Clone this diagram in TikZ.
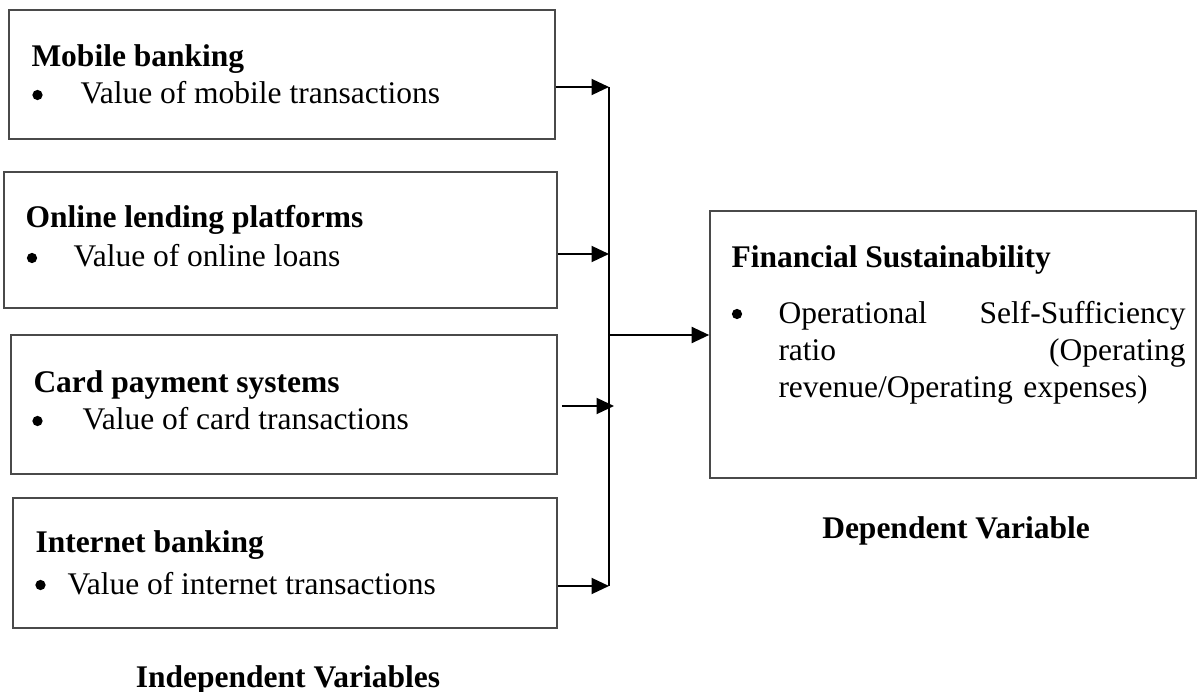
\documentclass[tikz,border=0pt]{standalone}
\usepackage{fontspec}
\setmainfont{Liberation Serif}
\usepackage{xcolor}
\usepackage{tikz}
\usetikzlibrary{calc,arrows.meta}
\definecolor{ink}{HTML}{000000}
\definecolor{frame}{HTML}{4A4A4A}
\tikzset{
  box/.style={draw=frame, line width=0.65pt, inner sep=0pt, rectangle},
  link/.style={draw=ink, line width=0.8pt, -{Triangle[length=7pt,width=6.4pt]}},
  bus/.style={draw=ink, line width=0.8pt},
  dotb/.style={circle, fill=ink, inner sep=0pt, minimum size=4.1pt},
  head/.style={anchor=base west, inner sep=0pt, font=\fontsize{12.6}{14.8}\selectfont\bfseries},
  item/.style={anchor=base west, inner sep=0pt, font=\fontsize{12.6}{14.8}\selectfont},
  varcap/.style={anchor=base, inner sep=0pt, font=\fontsize{12.6}{14.8}\selectfont\bfseries},
}

\begin{document}
\begin{tikzpicture}[x=0.4pt,y=-0.4pt]
  \useasboundingbox (0,0) rectangle (1201,692);

  % independent variable boxes
  \node[box, minimum width=218.4pt, minimum height=51.6pt] (mob) at (282,74.5) {};
  \node[box, minimum width=221.2pt, minimum height=54.4pt] (onl) at (280.5,240) {};
  \node[box, minimum width=218.4pt, minimum height=55.6pt] (card) at (284,404.5) {};
  \node[box, minimum width=217.6pt, minimum height=52pt] (inet) at (285,563) {};

  \node[head] (mobh) at (31,67) {Mobile banking};
  \node[dotb] (mobd) at (37.5,95) {};
  \node[item] (mobi) at (80,104) {Value of mobile transactions};
  \node[head] (onlh) at (25,228) {Online lending platforms};
  \node[dotb] (onld) at (32,258) {};
  \node[item] (onli) at (73,267) {Value of online loans};
  \node[head] (cardh) at (33,393) {Card payment systems};
  \node[dotb] (cardd) at (37.5,421) {};
  \node[item] (cardi) at (82,430) {Value of card transactions};
  \node[head] (ineth) at (35,553) {Internet banking};
  \node[dotb] (inetd) at (40.5,585) {};
  \node[item] (ineti) at (67,594) {Value of internet transactions};

  % dependent variable box
  \node[box, minimum width=194.4pt, minimum height=106.8pt] (fin) at (953,344.5) {};
  \node[head] (finh) at (731,268) {Financial Sustainability};
  \node[dotb] (find) at (737,314) {};
  \node[item, anchor=north west, text width=162.8pt, align=left] (fint) at (778,301)
    {Operational\hfill Self-Sufficiency\\ratio\hfill (Operating\\revenue/Operating expenses)};

  % joining bus
  \coordinate (top) at (609,87);
  \coordinate (bot) at (609,586);
  \coordinate (mid) at (609,335);
  \draw[bus] (top) -- (bot);
  \draw[link] (mob.east |- top) -- (top);
  \draw[link] (onl.east |- 0,254) -- (top |- 0,254);
  \draw[link] ($(card.east |- 0,406)+(4,0)$) -- ($(top |- 0,406)+(5,0)$);
  \draw[link] (inet.east |- bot) -- (bot);
  \draw[link] (mid) -- (fin.west |- mid);

  \node[varcap] (indep) at (288,687) {Independent Variables};
  \node[varcap] (dep) at (956,538) {Dependent Variable};
\end{tikzpicture}
\end{document}
